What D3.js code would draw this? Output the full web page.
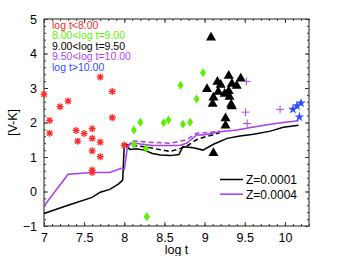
<!DOCTYPE html>
<html>
<head>
<meta charset="utf-8">
<script src="https://d3js.org/d3.v7.min.js"></script>
<style>
	body { margin: 0; background: #fff; }
	text { font-family: "Liberation Sans", Arial, sans-serif; }
</style>
</head>
<body>
<div id="chart"></div>
<script>
// groups of clusters by age, [log t, V-K]
var youngPts = [[7.00,2.82],[7.07,2.06],[7.07,1.69],[7.20,2.46],[7.30,2.62],[7.40,1.77],[7.42,1.46],
	[7.50,1.68],[7.60,1.82],[7.60,1.54],[7.60,1.18],[7.60,0.62],[7.60,0.55],[7.70,3.32],[7.70,1.43],
	[7.70,1.01],[7.85,2.90],[7.85,2.14],[8.00,1.34]];
var midPts = [[8.12,1.78],[8.12,1.37],[8.20,2.01],[8.27,1.25],[8.28,-0.73],[8.49,1.99],[8.55,2.07],
	[8.70,3.08],[8.73,1.95],[8.82,2.01],[8.90,2.68],[8.98,3.44]];
var oldPts = [[9.08,4.49],[9.30,3.38],[9.45,3.30],[9.16,3.21],[9.20,3.12],[9.34,3.15],[9.40,3.09],
	[9.03,3.00],[9.17,2.92],[9.30,2.94],[9.25,2.86],[9.31,2.77],[9.11,2.75],[9.10,2.57],[9.33,2.55],
	[9.34,2.50],[9.26,2.15],[9.26,1.94],[9.11,1.14]];
var olderPts = [[9.52,3.19],[9.51,2.30],[9.94,2.38],[9.53,1.97]];
var oldestPts = [[10.10,2.38],[10.15,2.48],[10.20,2.56],[10.18,2.16]];

// model tracks
var z1Solid = [[7.00,-0.64],[7.30,-0.40],[7.60,-0.17],[7.70,-0.02],[7.82,0.06],[7.93,0.22],[7.98,0.33],
	[8.00,1.37],[8.07,1.22],[8.15,1.24],[8.25,1.20],[8.35,1.10],[8.45,1.06],[8.57,1.04],[8.68,1.07],
	[8.73,1.30],[8.86,1.27],[8.98,1.20],[9.11,1.37],[9.28,1.54],[9.44,1.61],[9.61,1.66],[9.82,1.75],
	[9.98,1.86],[10.17,1.92]];
var z4Solid = [[7.00,-0.42],[7.30,0.50],[7.60,0.55],[7.82,0.55],[7.96,0.67],[8.00,0.64],[8.04,1.30],
	[8.10,1.42],[8.20,1.38],[8.35,1.33],[8.57,1.33],[8.70,1.34],[8.78,1.40],[8.90,1.64],[8.98,1.64],
	[9.19,1.73],[9.40,1.78],[9.61,1.87],[9.82,1.95],[10.00,2.01],[10.17,2.05]];
var z1Dash = [[8.00,1.37],[8.10,1.33],[8.25,1.30],[8.36,1.25],[8.57,1.16],[8.70,1.25],[8.78,1.32],
	[8.90,1.50],[9.00,1.58],[9.19,1.70]];
var z4Dash = [[8.04,1.30],[8.10,1.47],[8.30,1.43],[8.57,1.40],[8.78,1.50],[8.90,1.69],[9.00,1.70],[9.19,1.75]];

var groupLabels = ["log t<8.00", "8.00<log t=9.00", "9.00<log t=9.50", "9.50<log t=10.00", "log t>10.00"];
var groupColors = ["#ff2a2a", "#5ef000", "#000000", "#b444ff", "#2f4dff"];
var modelLabels = ["Z=0.0001", "Z=0.0004"];
var modelColors = ["#000000", "#a83cf0"];

var margin = { top: 19, right: 32, bottom: 30, left: 44 },
	width  = 341 - margin.left - margin.right,
	height = 256 - margin.top - margin.bottom;

var svg = d3.select("#chart").append("svg")
	.attr("width", 341).attr("height", 256)
	.append("g")
	.attr("transform", "translate(" + margin.left + "," + margin.top + ")");

var x = d3.scaleLinear().domain([7, 10.3]).range([0, width]);
var y = d3.scaleLinear().domain([-1, 5]).range([height, 0]);

// inward ticks on all four sides
function ticksOn(axisFn, scale, major, minor, showLabels, fmt) {
	var a = axisFn(scale).tickValues(major).tickSizeInner(-4).tickSizeOuter(0).tickPadding(7);
	if (showLabels) a.tickFormat(fmt); else a.tickFormat("");
	var b = axisFn(scale).tickValues(minor).tickSizeInner(-2).tickSizeOuter(0).tickFormat("");
	return [a, b];
}
var xMajor = [7, 7.5, 8, 8.5, 9, 9.5, 10];
var xMinor = d3.range(70, 104).map(function(d){ return d / 10; });
var yMajor = [-1, 0, 1, 2, 3, 4, 5];
var yMinor = d3.range(-5, 26).map(function(d){ return d / 5; });

var fmtX = function(d){ return d3.format("")(d); };
var fmtY = function(d){ return d < 0 ? "\u2212" + Math.abs(d) : d; };

var sides = [
	{ fn: d3.axisBottom, s: x, maj: xMajor, min: xMinor, lab: true, f: fmtX, t: "translate(0," + height + ")" },
	{ fn: d3.axisTop, s: x, maj: xMajor, min: xMinor, lab: false, f: fmtX, t: "translate(0,0)" },
	{ fn: d3.axisLeft, s: y, maj: yMajor, min: yMinor, lab: true, f: fmtY, t: "translate(0,0)" },
	{ fn: d3.axisRight, s: y, maj: yMajor, min: yMinor, lab: false, f: fmtY, t: "translate(" + width + ",0)" }
];
sides.forEach(function(sd){
	var ax = ticksOn(sd.fn, sd.s, sd.maj, sd.min, sd.lab, sd.f);
	ax.forEach(function(a){
		var g = svg.append("g").attr("transform", sd.t).call(a);
		g.select(".domain").remove();
		g.selectAll("line").attr("stroke", "#333");
		g.selectAll("text").style("font-size", "12.5px").attr("fill", "#000");
	});
});

svg.append("rect")
	.attr("width", width).attr("height", height)
	.attr("fill", "none").attr("stroke", "#444").attr("stroke-width", 1.2);

svg.append("text")
	.attr("x", width / 2).attr("y", height + 28)
	.attr("text-anchor", "middle").style("font-size", "12.5px")
	.text("log t");

svg.append("text")
	.attr("transform", "translate(-27," + (height / 2) + ") rotate(-90)")
	.attr("text-anchor", "middle").style("font-size", "12.5px")
	.text("[V-K]");

// model lines
var line = d3.line()
	.x(function(d){ return x(d[0]); })
	.y(function(d){ return y(d[1]); });

var tracks = [
	{ d: z1Dash, c: modelColors[0], dash: "5,3" },
	{ d: z4Dash, c: modelColors[1], dash: "5,3" },
	{ d: z1Solid, c: modelColors[0], dash: null },
	{ d: z4Solid, c: modelColors[1], dash: null }
];
svg.append("g").selectAll("path")
	.data(tracks).enter().append("path")
	.attr("d", function(d){ return line(d.d); })
	.attr("fill", "none")
	.attr("stroke", function(d){ return d.c; })
	.attr("stroke-width", 1.5)
	.attr("stroke-dasharray", function(d){ return d.dash; });

// markers
var star = d3.symbol().type(d3.symbolStar).size(30);
var tri = d3.symbol().type(d3.symbolTriangle).size(44);

svg.append("g").selectAll("path")
	.data(youngPts).enter().append("path")
	.attr("transform", function(d){ return "translate(" + x(d[0]) + "," + y(d[1]) + ")"; })
	.attr("d", "M-3.5,0H3.5M0,-3.5V3.5M-2.6,-2.6L2.6,2.6M-2.6,2.6L2.6,-2.6")
	.attr("stroke", groupColors[0]).attr("stroke-width", 1.3);

svg.append("g").selectAll("path")
	.data(midPts).enter().append("path")
	.attr("transform", function(d){ return "translate(" + x(d[0]) + "," + y(d[1]) + ")"; })
	.attr("d", "M0,-4.5L3,0L0,4.5L-3,0Z")
	.attr("fill", groupColors[1]);

svg.append("g").selectAll("path")
	.data(oldPts).enter().append("path")
	.attr("transform", function(d){ return "translate(" + x(d[0]) + "," + (y(d[1]) + 1) + ")"; })
	.attr("d", tri)
	.attr("fill", groupColors[2]);

svg.append("g").selectAll("path")
	.data(olderPts).enter().append("path")
	.attr("transform", function(d){ return "translate(" + x(d[0]) + "," + y(d[1]) + ")"; })
	.attr("d", "M-4,0H4M0,-4V4")
	.attr("stroke", groupColors[3]).attr("stroke-width", 1);

svg.append("g").selectAll("path")
	.data(oldestPts).enter().append("path")
	.attr("transform", function(d){ return "translate(" + x(d[0]) + "," + y(d[1]) + ")"; })
	.attr("d", star)
	.attr("fill", groupColors[4]);

// group legend
svg.append("g").selectAll("text")
	.data(groupLabels).enter().append("text")
	.attr("x", 8)
	.attr("y", function(d, i){ return 9.5 + i * 10.6; })
	.style("font-size", "10.5px")
	.attr("fill", function(d, i){ return groupColors[i]; })
	.text(function(d){ return d; });

// model legend
var leg = svg.append("g").selectAll("g")
	.data(modelLabels).enter().append("g")
	.attr("transform", function(d, i){ return "translate(176," + (160.5 + i * 14.7) + ")"; });
leg.append("line")
	.attr("x1", 0).attr("x2", 23)
	.attr("stroke", function(d, i){ return modelColors[i]; })
	.attr("stroke-width", 1.5);
leg.append("text")
	.attr("x", 26).attr("y", 4.3)
	.style("font-size", "12px")
	.text(function(d){ return d; });
</script>
</body>
</html>
